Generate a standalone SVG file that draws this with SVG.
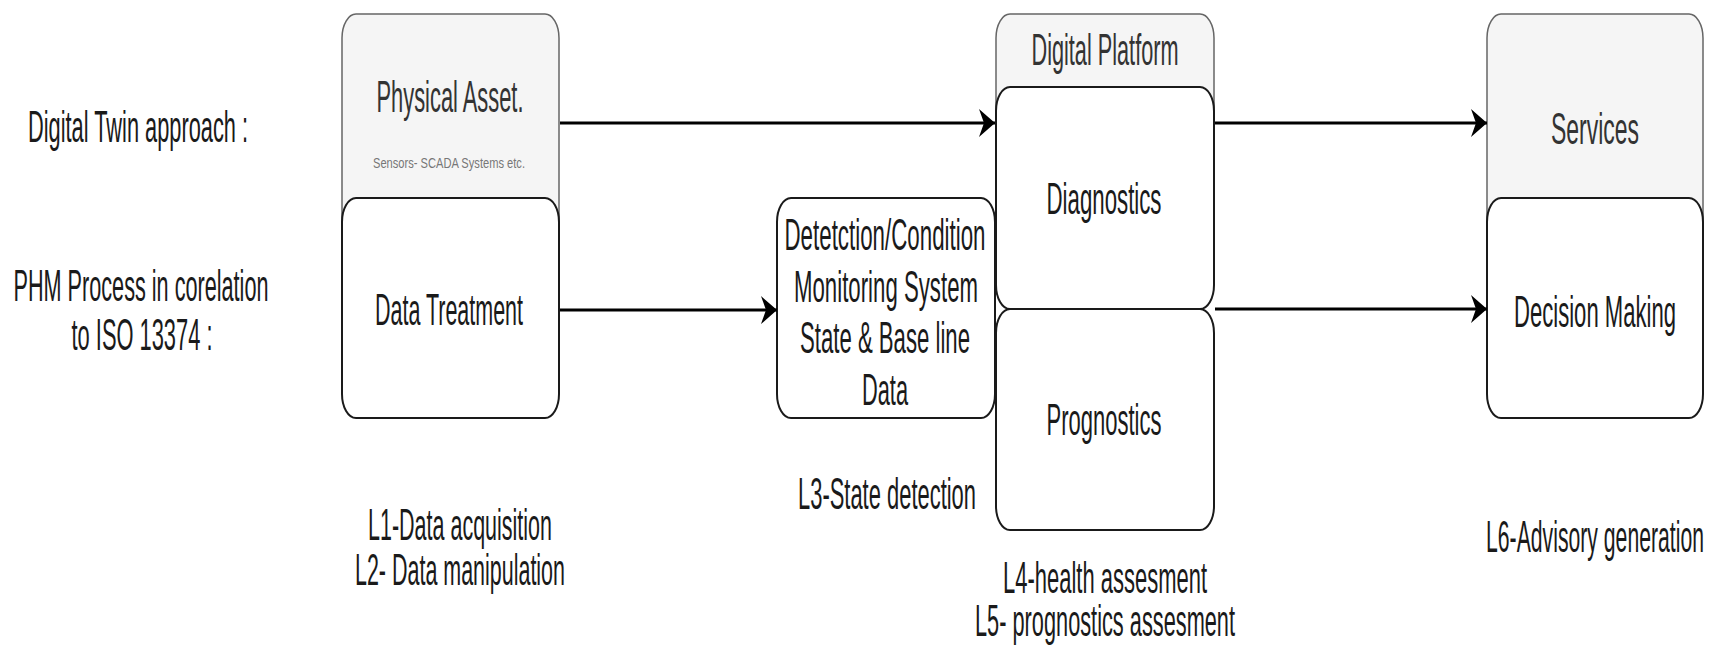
<svg xmlns="http://www.w3.org/2000/svg" width="1712" height="651" viewBox="0 0 1712 651">
<style>
text{font-family:"Liberation Sans",Arial,sans-serif;font-size:44px;fill:#1a1a1a;text-anchor:middle}
.grey{fill:#f5f5f5;stroke:#666;stroke-width:1.5}
.box{fill:#fff;stroke:#1a1a1a;stroke-width:2}
.hdr{fill:#333}
.small{font-size:15px;fill:#777}
.edge{stroke:#000;stroke-width:3;fill:none}
</style>
<defs>
<marker id="arr" markerUnits="userSpaceOnUse" viewBox="0 0 16 28" refX="16" refY="14" markerWidth="16" markerHeight="28" orient="auto">
<path d="M0,0 L16,14 L0,28 L5,14 Z" fill="#000"/>
</marker>
</defs>
<rect width="1712" height="651" fill="#fff"/>
<g id="label-dt"><text x="138" y="142" textLength="220" lengthAdjust="spacingAndGlyphs">Digital Twin approach :</text></g>
<g id="label-phm"><text x="141" y="301" textLength="255" lengthAdjust="spacingAndGlyphs">PHM Process in corelation</text><text x="142" y="350" textLength="141" lengthAdjust="spacingAndGlyphs">to ISO 13374 :</text></g>
<g id="physical-asset"><rect class="grey" x="342" y="14" width="217" height="280" rx="14" ry="24"/><text class="hdr" x="450" y="112" textLength="147" lengthAdjust="spacingAndGlyphs">Physical Asset.</text><text class="small" x="449" y="168" textLength="152" lengthAdjust="spacingAndGlyphs">Sensors-  SCADA Systems etc.</text></g>
<g id="data-treatment"><rect class="box" x="342" y="198" width="217" height="220" rx="14" ry="24"/><text x="449" y="325" textLength="148" lengthAdjust="spacingAndGlyphs">Data Treatment</text></g>
<g id="label-l1l2"><text x="460" y="540" textLength="184" lengthAdjust="spacingAndGlyphs">L1-Data acquisition</text><text x="460" y="585" textLength="210" lengthAdjust="spacingAndGlyphs">L2- Data manipulation</text></g>
<g id="detection"><rect class="box" x="777" y="198" width="218" height="220" rx="14" ry="24"/><text x="885" y="250" textLength="201" lengthAdjust="spacingAndGlyphs">Detetction/Condition</text><text x="886" y="302" textLength="184" lengthAdjust="spacingAndGlyphs">Monitoring System</text><text x="885" y="353" textLength="170" lengthAdjust="spacingAndGlyphs">State &amp; Base line</text><text x="885" y="405" textLength="46" lengthAdjust="spacingAndGlyphs">Data</text></g>
<g id="label-l3"><text x="887" y="509" textLength="178" lengthAdjust="spacingAndGlyphs">L3-State detection</text></g>
<g id="digital-platform"><rect class="grey" x="996" y="14" width="218" height="280" rx="14" ry="24"/><text class="hdr" x="1105" y="65" textLength="147" lengthAdjust="spacingAndGlyphs">Digital Platform</text></g>
<g id="diagnostics"><rect class="box" x="996" y="87" width="218" height="222" rx="14" ry="24"/><text x="1104" y="214" textLength="115" lengthAdjust="spacingAndGlyphs">Diagnostics</text></g>
<g id="prognostics"><rect class="box" x="996" y="309" width="218" height="221" rx="14" ry="24"/><text x="1104" y="435" textLength="115" lengthAdjust="spacingAndGlyphs">Prognostics</text></g>
<g id="label-l4l5"><text x="1105" y="593" textLength="204" lengthAdjust="spacingAndGlyphs">L4-health assesment</text><text x="1105" y="636" textLength="260" lengthAdjust="spacingAndGlyphs">L5- prognostics assesment</text></g>
<g id="services"><rect class="grey" x="1487" y="14" width="216" height="280" rx="14" ry="24"/><text class="hdr" x="1595" y="144" textLength="88" lengthAdjust="spacingAndGlyphs">Services</text></g>
<g id="decision-making"><rect class="box" x="1487" y="198" width="216" height="220" rx="14" ry="24"/><text x="1595" y="327" textLength="162" lengthAdjust="spacingAndGlyphs">Decision Making</text></g>
<g id="label-l6"><text x="1595" y="552" textLength="218" lengthAdjust="spacingAndGlyphs">L6-Advisory generation</text></g>
<g id="connectors">
<line class="edge" x1="560" y1="123" x2="995" y2="123" marker-end="url(#arr)"/>
<line class="edge" x1="560" y1="310" x2="777" y2="310" marker-end="url(#arr)"/>
<line class="edge" x1="1215" y1="123" x2="1487" y2="123" marker-end="url(#arr)"/>
<line class="edge" x1="1215" y1="309" x2="1487" y2="309" marker-end="url(#arr)"/>
</g>
</svg>
